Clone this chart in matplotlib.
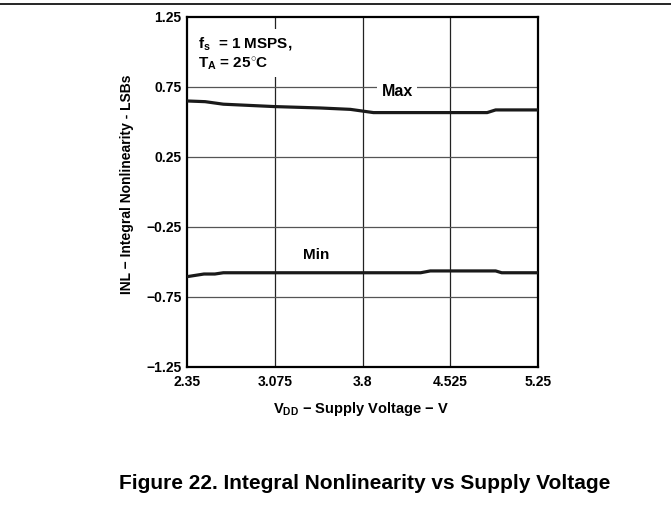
import matplotlib
matplotlib.use('Agg')
import matplotlib.pyplot as plt
from matplotlib.lines import Line2D

plt.rcParams['font.family'] = ['Liberation Sans', 'DejaVu Sans']
plt.rcParams['font.weight'] = 'bold'
plt.rcParams['mathtext.fontset'] = 'custom'
plt.rcParams['mathtext.rm'] = 'Liberation Sans:bold'
plt.rcParams['mathtext.bf'] = 'Liberation Sans:bold'
plt.rcParams['mathtext.it'] = 'Liberation Sans:bold'

# supply voltage (V) and INL (LSB)
vdd_max = [2.35, 2.50, 2.65, 3.07, 3.45, 3.70, 3.89, 4.83, 4.90, 5.25]
inl_max = [0.65, 0.645, 0.627, 0.61, 0.60, 0.59, 0.567, 0.567, 0.586, 0.586]
vdd_min = [2.35, 2.49, 2.58, 2.65, 4.28, 4.36, 4.90, 4.95, 5.25]
inl_min = [-0.605, -0.586, -0.586, -0.577, -0.577, -0.564, -0.564, -0.577, -0.577]

xticks = [2.35, 3.075, 3.8, 4.525, 5.25]
xtick_labels = ['2.35', '3.075', '3.8', '4.525', '5.25']
yticks = [-1.25, -0.75, -0.25, 0.25, 0.75, 1.25]
ytick_labels = ['\u22121.25', '\u22120.75', '\u22120.25', '0.25', '0.75', '1.25']

fig = plt.figure(figsize=(6.71, 5.08), dpi=100)
ax = fig.add_axes([0.2787, 0.2776, 0.5231, 0.689])

ax.set_xlim(2.35, 5.25)
ax.set_ylim(-1.25, 1.25)
ax.set_xticks(xticks)
ax.set_xticklabels(xtick_labels)
ax.set_yticks(yticks)
ax.set_yticklabels(ytick_labels)
ax.tick_params(length=0, labelsize=10)
ax.tick_params(axis='x', pad=6)
ax.tick_params(axis='y', pad=4)
for lbl in ax.get_xticklabels() + ax.get_yticklabels():
    lbl.set_fontweight('bold')

# grid
for x in xticks[1:-1]:
    ax.axvline(x, color='#222222', lw=0.9, zorder=1)
for y in yticks[1:-1]:
    ax.axhline(y, color='#555555', lw=0.9, zorder=1)
for s in ax.spines.values():
    s.set_linewidth(1.6)
    s.set_color('black')

ax.plot(vdd_max, inl_max, color='#1a1a1a', lw=2.3, zorder=3)
ax.plot(vdd_min, inl_min, color='#1a1a1a', lw=2.3, zorder=3)

ax.text(4.085, 0.715, 'Max', fontsize=11.5, fontweight='bold', ha='center', va='center',
        bbox=dict(facecolor='white', edgecolor='none', pad=3), zorder=4)
ax.text(3.42, -0.45, 'Min', fontsize=11, fontweight='bold', ha='center', va='center',
        bbox=dict(facecolor='white', edgecolor='none', pad=3), zorder=4)
ax.text(2.44, 0.99, '$\\mathbf{f_s}$  = 1 MSPS,\n$\\mathbf{T_A}$ = 25$^{\\circ}$C', fontsize=11,
        fontweight='bold', ha='left', va='center', linespacing=1.25,
        bbox=dict(facecolor='white', edgecolor='none', pad=4), zorder=4)

ax.set_ylabel('INL \u2212 Integral Nonlinearity - LSBs', fontsize=10, fontweight='bold')
ax.yaxis.set_label_coords(-0.151, 0.523)
ax.set_xlabel('$\\mathbf{V_{DD}}$ \u2212 Supply Voltage \u2212 V', fontsize=10.5, fontweight='bold')
ax.xaxis.set_label_coords(0.495, -0.095)

fig.text(0.543, 0.049, 'Figure 22. Integral Nonlinearity vs Supply Voltage',
         fontsize=15, fontweight='bold', ha='center', va='center')
fig.add_artist(Line2D([0, 1], [0.992, 0.992], color='black', lw=1.2, transform=fig.transFigure))

fig.savefig('out.png', dpi=100)
